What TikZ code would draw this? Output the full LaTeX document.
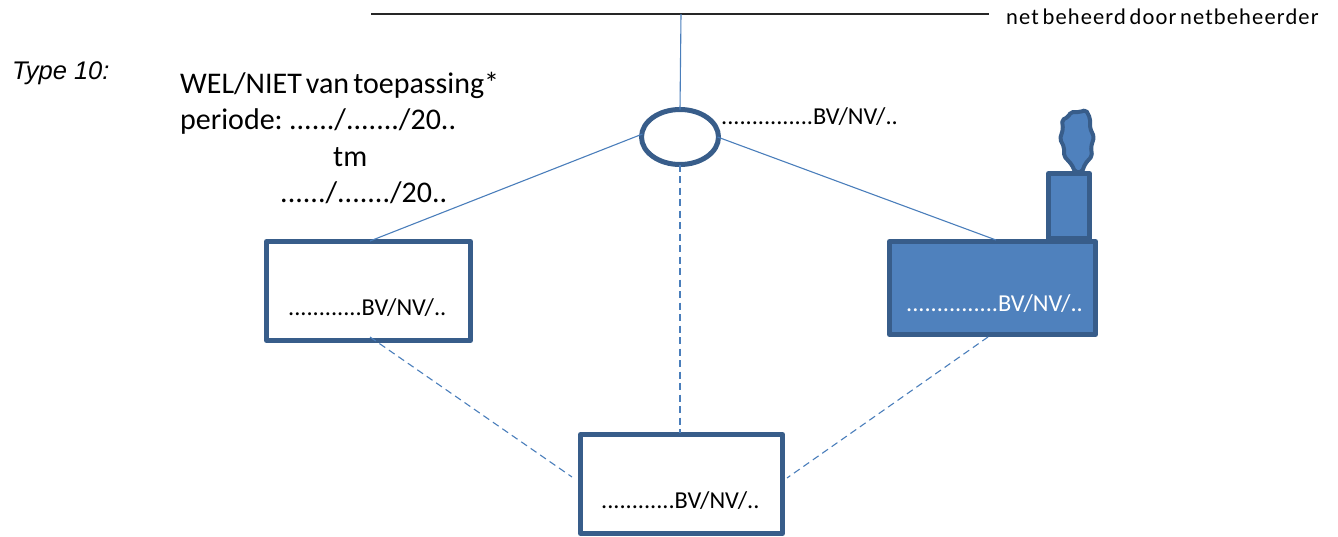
\documentclass[tikz,border=0pt]{standalone}
\usepackage{fontspec}
\usetikzlibrary{shapes.geometric}
\setmainfont{Carlito}[WordSpace=0.6]
\newfontfamily\typefont{Liberation Sans}
\definecolor{rand}{HTML}{385D8A}
\definecolor{vlak}{HTML}{4F81BD}
\definecolor{lijn}{HTML}{4A7EBB}
\begin{document}
\begin{tikzpicture}[x=1pt,y=-1pt]
	\tikzset{doos/.style={rectangle, draw=rand, line width=5pt, line join=round, outer sep=0pt, inner sep=0pt},
	vol/.style={doos, fill=vlak},
	kabel/.style={lijn, line width=1.1pt},
	stippel/.style={kabel, dash pattern=on 7pt off 4.5pt},
	groot/.style={anchor=base west, inner sep=0pt, font=\fontsize{30}{36}\selectfont},
	klein/.style={anchor=base west, inner sep=0pt, font=\fontsize{24.3}{29}\selectfont}};

	\useasboundingbox (0,0) rectangle (1338,536);

	% het net
	\coordinate (net-l) at (371,14);
	\coordinate (net-r) at (989,14);
	\coordinate (net-m) at (681,14);
	\draw[black!85, line width=1.7pt] (net-l) -- (net-r);
	\node[klein, font=\fontsize{22.5}{27}\selectfont\addfontfeature{LetterSpace=5}] (net) at (1006,24) {net beheerd door netbeheerder};

	% aansluiting en dozen
	\node[doos, ellipse, minimum width=77pt, minimum height=55pt] (knoop) at (680,137) {};
	\foreach \name/\x/\y/\w/\h in {links/368.5/291/204/99, onder/681.5/484/202/99}{
		\node[doos, minimum width=\w pt, minimum height=\h pt] (\name) at (\x,\y) {};
	}
	\node[vol, minimum width=41pt, minimum height=65pt] (schoorsteen) at (1069,206) {};
	\node[vol, minimum width=206pt, minimum height=93pt] (fabriek) at (992.5,288) {};

	% rook
	\draw[rand, fill=vlak, line width=4pt, line join=round, rounded corners=2pt] (1075,172) -- (1072,165) -- (1064,156) -- (1064,147) -- (1060,139)
		-- (1063,129) -- (1062,120) -- (1068,117) -- (1071,112) -- (1080,112) -- (1086,110) -- (1090,118) -- (1090,128)
		-- (1094,137) -- (1091,147) -- (1092,156) -- (1085,164) -- (1082,172) -- cycle;

	% verbindingen
	\foreach \name/\x/\y in {kl/370/241, kr/996/240, ol/370/337, om/680/433, or/988/337, bl/572/477, br/787/478}{
		\coordinate (\name) at (\x,\y);
	}
	\draw[kabel] (net-m) -- (knoop.north);
	\draw[kabel] (knoop.west) ++(1,-3) -- (kl);
	\draw[kabel] (knoop.east) ++(-1,0) -- (kr);
	\draw[stippel] (knoop.south) -- (om);
	\draw[stippel] (ol) -- (bl);
	\draw[stippel] (or) -- (br);

	% teksten
	\node[anchor=base west, inner sep=0pt, font=\typefont\itshape\fontsize{25.5}{30}\selectfont] (type) at (12,79) {Type 10:};
	\foreach \name/\x/\y/\text in {wel/180/93/{WEL/NIET van toepassing*}, periode/180/129/{periode: ....../......./20..},
		tm/333/166/tm, datum/280/202/{....../......./20..}}{
		\node[groot] (\name) at (\x,\y) {\text};
	}
	\foreach \name/\x/\y/\text in {t-knoop/721/124/{...............BV/NV/..}, t-links/288/315/{............BV/NV/..},
		t-onder/601/508/{............BV/NV/..}}{
		\node[klein] (\name) at (\x,\y) {\text};
	}
	\node[klein, white] (t-fabriek) at (906,311) {...............BV/NV/..};
\end{tikzpicture}
\end{document}
